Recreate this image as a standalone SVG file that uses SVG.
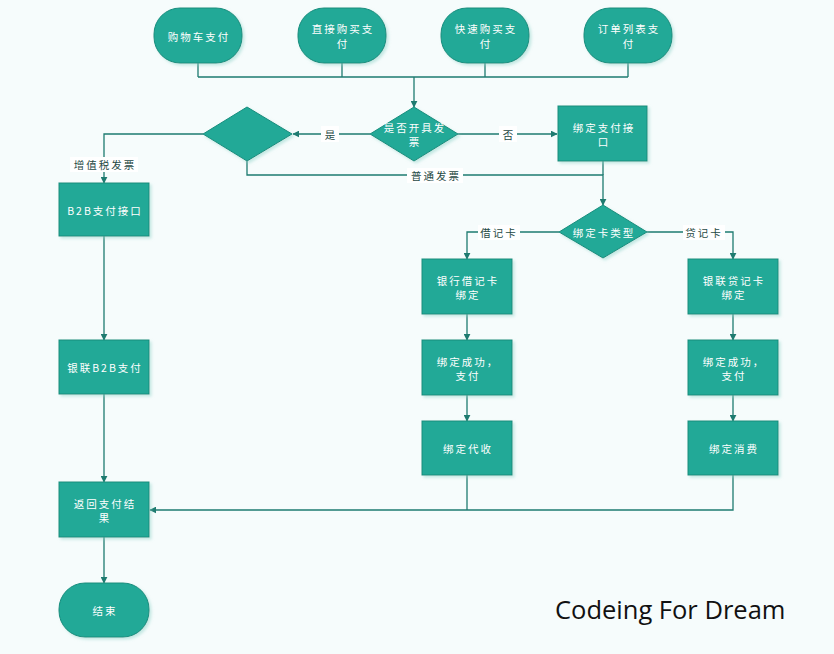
<svg xmlns="http://www.w3.org/2000/svg" width="834" height="654" viewBox="0 0 834 654">
<defs>
<style>
.shape{fill:#20a997;stroke:#178d7d;stroke-width:1;filter:url(#sh)}
.t{font-family:"Noto Sans CJK SC","Noto Sans",sans-serif;font-size:10.5px;fill:#ffffff;text-anchor:middle;letter-spacing:2px;dominant-baseline:central}
.lbl{font-family:"Noto Sans CJK SC","Noto Sans",sans-serif;font-size:10.5px;fill:#1f4a45;text-anchor:middle;letter-spacing:2px;dominant-baseline:central}
.lblbg{fill:#ffffff}
.c{fill:none;stroke:#1e7b70;stroke-width:1.3}
.a{marker-end:url(#arr)}
</style>
<marker id="arr" viewBox="0 0 10 10" refX="9" refY="5" markerWidth="7" markerHeight="7" markerUnits="userSpaceOnUse" orient="auto">
<path d="M0,0 L10,5 L0,10 Z" fill="#1e7b70"/>
</marker>
<filter id="sh" x="-10%" y="-10%" width="130%" height="130%">
<feDropShadow dx="2" dy="2" stdDeviation="1.5" flood-color="#8fd3c8" flood-opacity="0.5"/>
</filter>
</defs>
<rect x="0" y="0" width="834" height="654" fill="#f6fcfc"/>

<g id="connectors">
<path class="c" d="M198,63 V77 M342,63 V77 M485,63 V77 M628,63 V77 M198,77 H628"/>
<path class="c a" d="M414,77 V107"/>
<path class="c a" d="M370,134 H293"/>
<path class="c a" d="M458,134 H557"/>
<path class="c a" d="M203,134 H104 V183"/>
<path class="c a" d="M247,161 V175 H603 V205"/>
<path class="c" d="M603,161 V175"/>
<path class="c a" d="M104,236 V340"/>
<path class="c a" d="M104,394 V482"/>
<path class="c a" d="M104,537 V583"/>
<path class="c a" d="M559,232 H467 V259"/>
<path class="c a" d="M647,232 H733 V259"/>
<path class="c a" d="M467,314 V340"/>
<path class="c a" d="M467,395 V421"/>
<path class="c a" d="M733,314 V340"/>
<path class="c a" d="M733,395 V421"/>
<path class="c" d="M467,475 V510"/>
<path class="c a" d="M733,475 V510 H150"/>
<g id="labels">
<rect class="lblbg" x="321" y="126" width="18" height="16"/>
<text class="lbl" x="331" y="134">是</text>
<rect class="lblbg" x="499" y="126" width="18" height="16"/>
<text class="lbl" x="509" y="134">否</text>
<rect class="lblbg" x="407" y="168" width="56" height="15"/>
<text class="lbl" x="436" y="175">普通发票</text>
<rect class="lblbg" x="70" y="157" width="68" height="15"/>
<text class="lbl" x="105" y="164">增值税发票</text>
<rect class="lblbg" x="478" y="225" width="42" height="15"/>
<text class="lbl" x="499" y="232">借记卡</text>
<rect class="lblbg" x="683" y="225" width="42" height="15"/>
<text class="lbl" x="704" y="232">贷记卡</text>
</g>
</g>

<g id="n_cart"><rect class="shape" x="154" y="8" width="88" height="55" rx="26"/><text class="t" x="199" y="36">购物车支付</text></g>
<g id="n_direct"><rect class="shape" x="298" y="8" width="88" height="55" rx="26"/><text class="t" x="343" y="28">直接购买支</text><text class="t" x="343" y="43">付</text></g>
<g id="n_fast"><rect class="shape" x="441" y="8" width="88" height="55" rx="26"/><text class="t" x="486" y="28">快速购买支</text><text class="t" x="486" y="43">付</text></g>
<g id="n_order"><rect class="shape" x="584" y="8" width="88" height="55" rx="26"/><text class="t" x="629" y="28">订单列表支</text><text class="t" x="629" y="43">付</text></g>

<g id="n_invoice"><polygon class="shape" points="414,107 458,134 414,161 370,134"/><text class="t" x="415" y="127">是否开具发</text><text class="t" x="415" y="141">票</text></g>
<g id="n_vat"><polygon class="shape" points="247,107 292,134 247,161 203,134"/></g>
<g id="n_bindpay"><rect class="shape" x="558" y="106" width="89" height="55"/><text class="t" x="604" y="127">绑定支付接</text><text class="t" x="604" y="141">口</text></g>

<g id="n_b2b"><rect class="shape" x="59" y="183" width="90" height="53"/><text class="t" x="105" y="210">B2B支付接口</text></g>
<g id="n_unionb2b"><rect class="shape" x="59" y="340" width="90" height="54"/><text class="t" x="105" y="367">银联B2B支付</text></g>
<g id="n_return"><rect class="shape" x="59" y="482" width="90" height="55"/><text class="t" x="105" y="503">返回支付结</text><text class="t" x="105" y="517">果</text></g>
<g id="n_end"><rect class="shape" x="59" y="583" width="90" height="54" rx="26"/><text class="t" x="105" y="610">结束</text></g>

<g id="n_cardtype"><polygon class="shape" points="603,205 647,232 603,258 559,232"/><text class="t" x="604" y="232">绑定卡类型</text></g>

<g id="n_debit"><rect class="shape" x="422" y="259" width="90" height="55"/><text class="t" x="468" y="280">银行借记卡</text><text class="t" x="468" y="294">绑定</text></g>
<g id="n_debitok"><rect class="shape" x="422" y="340" width="90" height="55"/><text class="t" x="468" y="361">绑定成功，</text><text class="t" x="468" y="375">支付</text></g>
<g id="n_collect"><rect class="shape" x="422" y="421" width="90" height="54"/><text class="t" x="468" y="448">绑定代收</text></g>

<g id="n_credit"><rect class="shape" x="688" y="259" width="90" height="55"/><text class="t" x="734" y="280">银联贷记卡</text><text class="t" x="734" y="294">绑定</text></g>
<g id="n_creditok"><rect class="shape" x="688" y="340" width="90" height="55"/><text class="t" x="734" y="361">绑定成功，</text><text class="t" x="734" y="375">支付</text></g>
<g id="n_consume"><rect class="shape" x="688" y="421" width="90" height="54"/><text class="t" x="734" y="448">绑定消费</text></g>

<text x="555" y="619" font-family="'Open Sans','Noto Sans',sans-serif" font-size="25.5" fill="#111111">Codeing For Dream</text>
</svg>
